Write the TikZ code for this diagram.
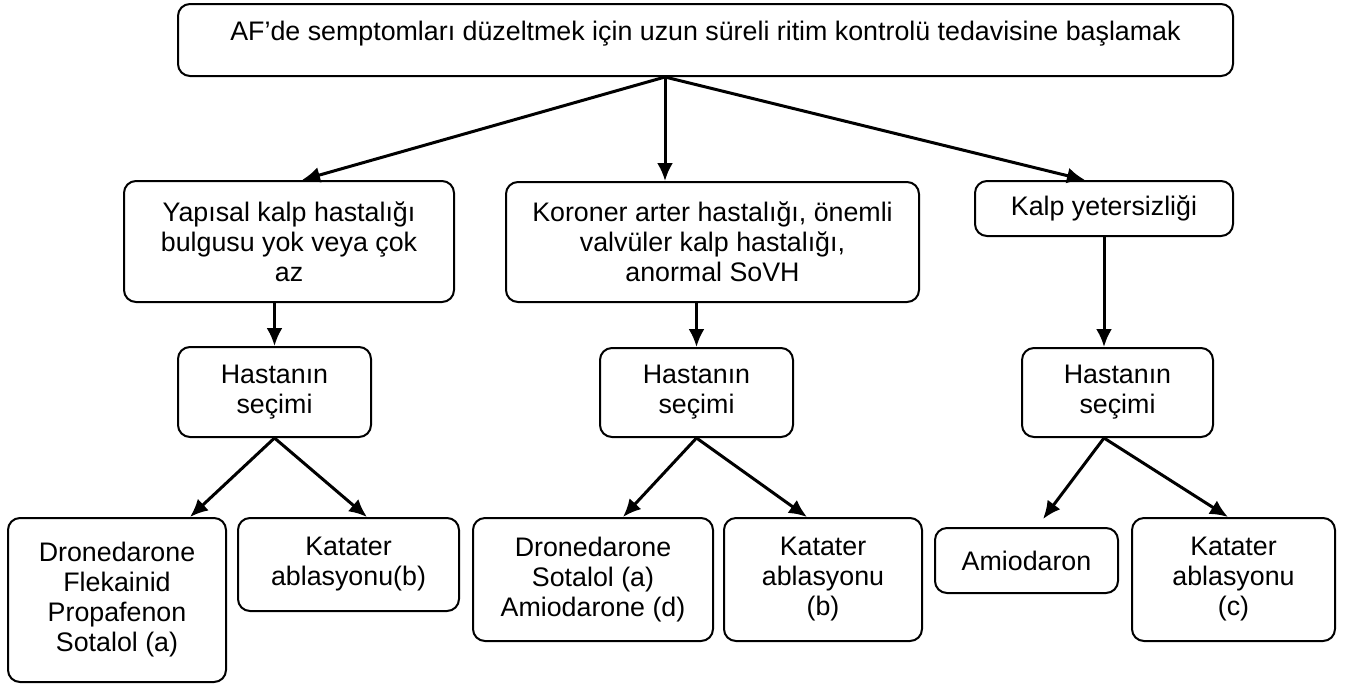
\documentclass[tikz,border=0pt]{standalone}
\usepackage{fontspec}
\setmainfont{Liberation Sans}
\usepackage{tikz}
\usetikzlibrary{positioning,arrows.meta}
\tikzset{
  box/.style  = {draw, rounded corners=6pt, line width=1pt, align=center,
                 inner sep=2pt, font=\fontsize{13.4}{15}\selectfont},
  flow/.style = {-{Latex[length=9pt,width=8pt]}, line width=1.5pt}
}

\begin{document}
\begin{tikzpicture}[x=0.5pt,y=-0.5pt]
  \useasboundingbox (0,0) rectangle (1348,687);
  % top
  \node[box, minimum width=527.5pt, minimum height=36pt] (start) at (705.5,40)
       {\raisebox{3pt}[\height][\depth]{AF’de semptomları düzeltmek için uzun süreli ritim kontrolü tedavisine başlamak}};
  \coordinate (fork) at ([xshift=-20.25pt]start.south);
  % second row
  \node[box, minimum width=165pt, minimum height=60.5pt] (nostruct) at (289,241.5)
       {Yapısal kalp hastalığı\\ bulgusu yok veya çok\\ az};
  \node[box, minimum width=206.5pt, minimum height=60pt] (coronary) at (712.5,242)
       {Koroner arter hastalığı, önemli\\ valvüler kalp hastalığı,\\ anormal SoVH};
  \node[box, minimum width=129pt, minimum height=27.5pt] (failure) at (1104,208.5)
       {Kalp yetersizliği};
  % patient choice
  \node[box, minimum width=96.5pt, minimum height=45pt] (choiceA) at (274.5,392) {Hastanın\\ seçimi};
  \node[box, minimum width=96.5pt, minimum height=44.5pt] (choiceB) at (696.5,392.5) {Hastanın\\ seçimi};
  \node[box, minimum width=95.5pt, minimum height=44.5pt] (choiceC) at (1117.5,392.5) {Hastanın\\ seçimi};
  % treatments
  \node[box, minimum width=109pt, minimum height=82pt] (drugsA) at (117,600)
       {Dronedarone\\ Flekainid\\ Propafenon\\ Sotalol (a)};
  \node[box, minimum width=110.5pt, minimum height=46.5pt] (ablA) at (348.5,564.5)
       {Katater\\ ablasyonu(b)};
  \node[box, minimum width=120pt, minimum height=61.5pt] (drugsB) at (593,579.5)
       {Dronedarone\\ Sotalol (a)\\ Amiodarone (d)};
  \node[box, minimum width=99pt, minimum height=61.5pt] (ablB) at (823,579.5)
       {Katater\\ ablasyonu\\ (b)};
  \node[box, minimum width=91.5pt, minimum height=32.5pt] (drugsC) at (1026.5,560.5)
       {Amiodaron};
  \node[box, minimum width=101.5pt, minimum height=61.5pt] (ablC) at (1233.5,579.5)
       {Katater\\ ablasyonu\\ (c)};
  % arrows
  \draw[flow] (fork) -- ([xshift=6.5pt]nostruct.north);
  \draw[flow] (fork) -- ([xshift=-23.75pt]coronary.north);
  \draw[flow] (fork) -- ([xshift=-9.5pt]failure.north);
  \draw[flow] (nostruct.south -| choiceA.north) -- (choiceA.north);
  \draw[flow] (coronary.south -| choiceB.north) -- (choiceB.north);
  \draw[flow] (failure.south) -- (failure.south |- choiceC.north);
  \draw[flow] (choiceA.south) -- ([xshift=36.5pt]drugsA.north);
  \draw[flow] (choiceA.south) -- ([xshift=9.25pt]ablA.north);
  \draw[flow] (choiceB.south) -- ([xshift=15pt]drugsB.north);
  \draw[flow] (choiceB.south) -- ([xshift=-8pt]ablB.north);
  \draw[flow, shorten >=5pt] (failure.south |- choiceC.south) -- ([xshift=5.25pt]drugsC.north);
  \draw[flow] (failure.south |- choiceC.south) -- ([xshift=-2.75pt]ablC.north);
\end{tikzpicture}
\end{document}
